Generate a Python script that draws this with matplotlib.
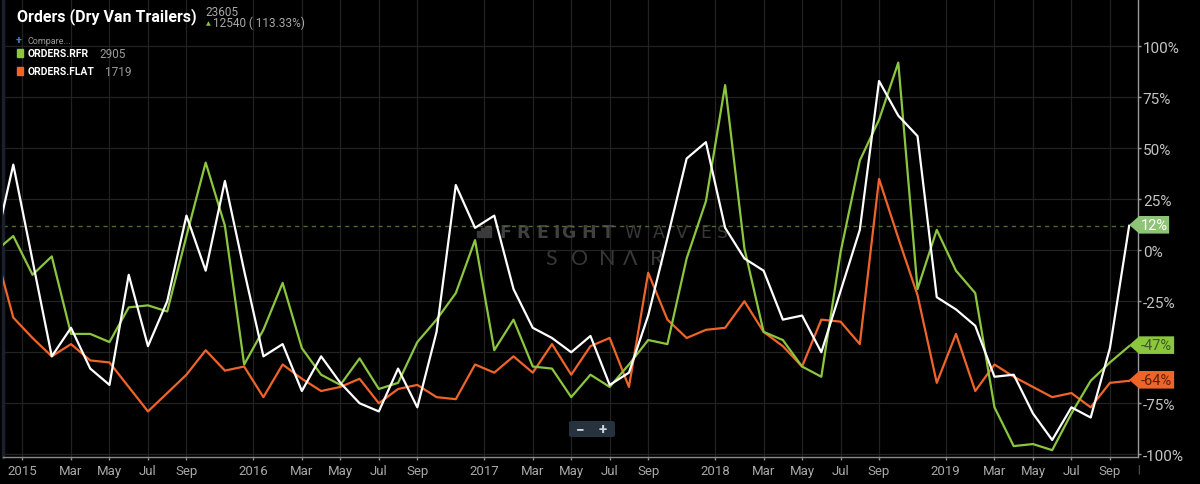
import numpy as np
import matplotlib
matplotlib.use("Agg")
import matplotlib.pyplot as plt
from matplotlib.patches import Polygon, FancyBboxPatch, Rectangle

plt.rcParams['font.family'] = ['Roboto', 'DejaVu Sans']

# ---------------- data ----------------
months = [f"{y}-{m:02d}" for y in range(2014, 2020) for m in range(1, 13)
          if "2014-11" <= f"{y}-{m:02d}" <= "2019-10"]

orders_total = [0, 42, -5, -52, -38, -58, -66, -12, -47, -25, 17, -10, 34, -10,
                -52, -46, -69, -52, -65, -75, -79, -58, -77, -40, 32, 11, 17, -19,
                -38, -43, -50, -42, -66, -60, -32, 6, 45, 53, 11, -4, -10, -34,
                -32, -50, -20, 10, 83, 66, 56, -23, -29, -37, -62, -61, -80, -93,
                -77, -82, -48, 12]
orders_rfr = [-1, 7, -12, -3, -41, -41, -45, -28, -27, -30, 7, 43, 12, -56,
              -39, -16, -48, -61, -66, -53, -68, -65, -45, -34, -21, 5, -49, -34,
              -57, -58, -72, -61, -67, -56, -44, -46, -4, 24, 81, 1, -40, -44,
              -57, -62, -1, 44, 64, 92, -19, 10, -10, -21, -77, -96, -95, -98,
              -80, -64, -55, -47]
orders_flat = [2, -33, -43, -52, -46, -54, -55, -67, -79, -70, -61, -49, -59, -57,
               -72, -56, -63, -69, -67, -63, -75, -68, -66, -72, -73, -56, -60, -52,
               -60, -46, -61, -47, -43, -67, -11, -34, -43, -39, -38, -25, -40, -47,
               -57, -34, -35, -46, 35, 6, -22, -65, -41, -69, -56, -62, -67, -72,
               -70, -77, -65, -64]

tick_months = ["2015-01", "2015-03", "2015-05", "2015-07", "2015-09",
               "2016-01", "2016-03", "2016-05", "2016-07", "2016-09",
               "2017-01", "2017-03", "2017-05", "2017-07", "2017-09",
               "2018-01", "2018-03", "2018-05", "2018-07", "2018-09",
               "2019-01", "2019-03", "2019-05", "2019-07", "2019-09"]
tick_labels = ["2015", "Mar", "May", "Jul", "Sep",
               "2016", "Mar", "May", "Jul", "Sep",
               "2017", "Mar", "May", "Jul", "Sep",
               "2018", "Mar", "May", "Jul", "Sep",
               "2019", "Mar", "May", "Jul", "Sep"]
y_ticks = [-100, -75, -50, -25, 0, 25, 50, 75, 100]

title = "Orders (Dry Van Trailers)"
headline_value = "23605"
headline_change = "12540 ( 113.33%)"
series_names = ["ORDERS.RFR", "ORDERS.FLAT"]
series_latest = ["2905", "1719"]

# ---------------- styling ----------------
W, H = 1200, 485
BG = "black"
WHITE = "#ffffff"
GREEN = "#8cc63f"
ORANGE = "#ef6429"


def month_index(s):
    return (int(s[:4]) - 2015) * 12 + int(s[5:])


x = np.array([month_index(m) for m in months], dtype=float)
tick_pos = [month_index(m) - (0.53 if m.endswith("-01") else 0.0) for m in tick_months]

fig = plt.figure(figsize=(W / 100, H / 100), dpi=100, facecolor=BG)
ax = fig.add_axes([3 / W, 27.3 / H, 1135 / W, 457.7 / H])
ax.set_facecolor(BG)
ax.set_xlim(-0.535, 58.46)
ax.set_ylim(-101.2, 123.2)


def fx(px, py):
    return px / W, 1 - py / H


# watermark (under the lines)
wm_bold = [("F", 499), ("R", 516), ("E", 536), ("I", 553), ("G", 561), ("H", 581), ("T", 602)]
for ch, px in wm_bold:
    ax.text(*fx(px, 238.5), ch, transform=fig.transFigure, family=['DejaVu Sans'],
            weight='bold', size=12.5, color='#404040', va='baseline', ha='left', zorder=1.2)
wm_light = [("W", 624), ("A", 653), ("V", 676), ("E", 700), ("S", 717)]
for ch, px in wm_light:
    ax.text(*fx(px, 238.5), ch, transform=fig.transFigure, family=['DejaVu Sans'],
            size=12.5, color='#383838', va='baseline', ha='left', zorder=1.2)
wm_sonar = [("S", 545), ("O", 571), ("N", 599), ("\u039b", 623), ("R", 650)]
for ch, px in wm_sonar:
    ax.text(*fx(px, 265), ch, transform=fig.transFigure, family=['Lato', 'DejaVu Sans'],
            size=15.5, color='#383838', va='baseline', ha='left', zorder=1.2)
for i, hgt in enumerate([6, 9, 11, 11]):
    ax.add_artist(Rectangle(fx(477 + i * 4, 238), 2.5 / W, hgt / H, transform=fig.transFigure,
                            color='#3a3a3a', zorder=1.2))

# grid
ax.set_xticks(tick_pos)
ax.set_xticklabels(tick_labels)
ax.set_yticks(y_ticks)
ax.set_yticklabels(["" if v == -50 else f"{v}%" for v in y_ticks])
ax.grid(True, color='#222222', lw=0.9)
ax.set_axisbelow(True)

# reference dashed line at latest value of main series
ax.axhline(orders_total[-1], color='#4e6a2a', lw=1, ls=(0, (3, 3)), zorder=1.5,
           xmax=(x[-1] - ax.get_xlim()[0]) / (ax.get_xlim()[1] - ax.get_xlim()[0]))

# lines
ax.plot(x, orders_flat, color=ORANGE, lw=1.6, zorder=3)
ax.plot(x, orders_rfr, color=GREEN, lw=1.6, zorder=4)
ax.plot(x, orders_total, color=WHITE, lw=1.6, zorder=5)

# spines and ticks
ax.spines['top'].set_visible(False)
ax.spines['left'].set_color('#19222c')
ax.spines['left'].set_linewidth(2.5)
ax.spines['bottom'].set_color('#8a8a8a')
ax.spines['bottom'].set_linewidth(1)
ax.spines['right'].set_color('#9a9a9a')
ax.spines['right'].set_linewidth(1)
ax.yaxis.tick_right()
ax.tick_params(axis='y', colors='#9a9a9a', labelcolor='#c4c4c4', labelsize=11,
               length=2, pad=1.5, width=1)
ax.tick_params(axis='x', colors='#8a8a8a', labelcolor='#a8a8a8', labelsize=9.5,
               length=2.5, pad=3, width=1)

# value tags on right
px_per_x = 1135 / (58.46 + 0.535)
px_per_y = 457.7 / (123.2 + 101.2)
body_left = 58.0 + 10 / px_per_x
tag_h = 17.6 / px_per_y
tags = [(orders_total[-1], '#8ec477', '#ffffff', 40),
        (orders_rfr[-1], GREEN, '#3d5c1c', 45),
        (orders_flat[-1], ORANGE, '#5a200c', 45)]
for val, fc, tc, wpx in tags:
    right = 58.0 + wpx / px_per_x
    vy = val + 0.5
    poly = Polygon([(x[-1], vy), (body_left, vy + tag_h / 2), (right, vy + tag_h / 2),
                    (right, vy - tag_h / 2), (body_left, vy - tag_h / 2)],
                   closed=True, fc=fc, ec='none', clip_on=False, zorder=8)
    ax.add_patch(poly)
    ax.text((body_left + right) / 2, vy, f"{val}%", color=tc, size=10.5, ha='center',
            va='center', clip_on=False, zorder=9)

# end tick mark on x axis
fig.text(*fx(1138, 470), "|", color='#777777', size=7, ha='center', va='center')

# zoom buttons
fig.add_artist(FancyBboxPatch(fx(569, 438), 46 / W, 16 / H,
                              boxstyle='round,pad=0,rounding_size=0.003',
                              transform=fig.transFigure, fc='#26323d', ec='none', zorder=3))
fig.text(*fx(580, 430), "\u2212", color='#d0d6dc', size=11, weight='bold',
         ha='center', va='center', zorder=4)
fig.text(*fx(603, 430), "+", color='#d0d6dc', size=11, weight='bold',
         ha='center', va='center', zorder=4)

# header
fig.text(*fx(17, 21.7), title, weight='bold', size=11.5, color='white',
         va='baseline', ha='left')
fig.text(*fx(205, 16), headline_value, color='#a8a8a8', size=8.5, va='baseline', ha='left')
fig.text(*fx(208, 23.5), "\u25b2", family=['DejaVu Sans'], color=GREEN, size=4.5,
         va='center', ha='center')
fig.text(*fx(213, 27), headline_change, color='#a8a8a8', size=8.5, va='baseline', ha='left')
fig.text(*fx(19, 41), "+", color='#3b7fd0', size=8, weight='bold', va='center', ha='center')
fig.text(*fx(27, 41.5), "Compare...", color='#9a9a9a', size=6.5, va='center', ha='left')

legend_rows = [(54, GREEN, 99), (72, ORANGE, 105)]
for (py, col, vx), name, latest in zip(legend_rows, series_names, series_latest):
    fig.add_artist(Rectangle(fx(17, py + 3.5), 6 / W, 7.5 / H, transform=fig.transFigure,
                             color=col))
    fig.text(*fx(28, py), name, weight='bold', size=7.5, color='white',
             va='center', ha='left')
    fig.text(*fx(vx, py), latest, color='#9a9a9a', size=8.5, va='center', ha='left')

fig.savefig("out.png", dpi=100, facecolor=BG)
